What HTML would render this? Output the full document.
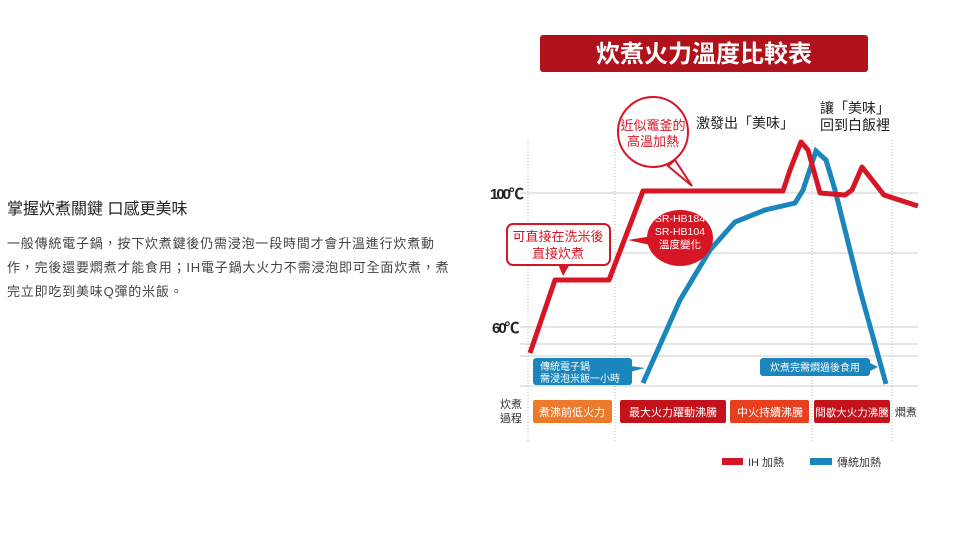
<!DOCTYPE html>
<html><head><meta charset="utf-8"><style>
body{margin:0;width:960px;height:543px;background:#fff;overflow:hidden;font-family:"Liberation Sans","Noto Sans CJK TC",sans-serif;position:relative}
.h{position:absolute;left:7px;top:195px;font-size:16px;color:#222}
.p{position:absolute;left:7px;top:232px;width:470px;font-size:13px;line-height:24px;color:#444;letter-spacing:0.8px;white-space:nowrap}
</style></head><body>
<div class="h">掌握炊煮關鍵 口感更美味</div>
<div class="p">一般傳統電子鍋，按下炊煮鍵後仍需浸泡一段時間才會升溫進行炊煮動<br>作，完後還要燜煮才能食用；IH電子鍋大火力不需浸泡即可全面炊煮，煮<br>完立即吃到美味Q彈的米飯。</div>
<svg width="960" height="543" style="position:absolute;left:0;top:0" font-family="Liberation Sans,Noto Sans CJK TC,sans-serif">
<rect x="540" y="35" width="328" height="37" rx="3" fill="#b0121b"/>
<text x="704" y="62" font-size="24" font-weight="bold" fill="#fff" text-anchor="middle">炊煮火力溫度比較表</text>
<g stroke="#ccc" stroke-width="1">
<line x1="520" y1="193" x2="918" y2="193"/><line x1="520" y1="253" x2="918" y2="253"/>
<line x1="520" y1="327" x2="918" y2="327"/><line x1="520" y1="344" x2="918" y2="344"/>
<line x1="520" y1="356" x2="918" y2="356"/><line x1="520" y1="386" x2="918" y2="386"/>
</g>
<g stroke="#bbb" stroke-dasharray="1,2">
<line x1="528" y1="140" x2="528" y2="443"/><line x1="615" y1="140" x2="615" y2="443"/>
<line x1="812" y1="140" x2="812" y2="443"/><line x1="892" y1="140" x2="892" y2="443"/>
</g>
<text x="490" y="199" font-size="15" font-weight="bold" fill="#222" letter-spacing="-2">100℃</text>
<text x="492" y="333" font-size="15" font-weight="bold" fill="#222" letter-spacing="-2">60℃</text>
<polyline points="643,383 680,300 710,250 735,222 765,210 795,203 803,190 816,151 826,160 835,190 860,290 886,384" fill="none" stroke="#1a86bd" stroke-width="5"/>
<polyline points="530,353 555,280 609,280 643,191 783,191 790,170 801,142 808,150 820,193 845,195 852,190 862,167 884,195 918,206" fill="none" stroke="#d71625" stroke-width="5" stroke-linejoin="round"/>
<path d="M675,160 L692,186 L668,166Z" fill="#fff" stroke="#d71625" stroke-width="2"/>
<circle cx="653" cy="132" r="35" fill="#fff" stroke="#d71625" stroke-width="2"/>
<text x="653" y="130" font-size="13" fill="#d71625" text-anchor="middle">近似竈釜的</text>
<text x="653" y="146" font-size="13" fill="#d71625" text-anchor="middle">高溫加熱</text>
<path d="M558,264 L563,276 L570,264Z" fill="#d71625"/>
<rect x="507" y="224" width="103" height="41" rx="6" fill="#fff" stroke="#d71625" stroke-width="2"/>
<text x="558" y="241" font-size="13" fill="#d71625" text-anchor="middle">可直接在洗米後</text>
<text x="558" y="258" font-size="13" fill="#d71625" text-anchor="middle">直接炊煮</text>
<path d="M650,245 L628,240 L652,236Z" fill="#d71625"/>
<ellipse cx="680" cy="238" rx="33" ry="28" fill="#d71625"/>
<text x="680" y="222" font-size="10.5" fill="#fff" text-anchor="middle">SR-HB184</text>
<text x="680" y="235" font-size="10.5" fill="#fff" text-anchor="middle">SR-HB104</text>
<text x="680" y="248" font-size="10.5" fill="#fff" text-anchor="middle">溫度變化</text>
<text x="745" y="128" font-size="14" fill="#222" text-anchor="middle">激發出「美味」</text>
<text x="855" y="113" font-size="14" fill="#222" text-anchor="middle">讓「美味」</text>
<text x="855" y="130" font-size="14" fill="#222" text-anchor="middle">回到白飯裡</text>
<path d="M630,366 L645,368 L630,372Z" fill="#1a86bd"/>
<rect x="533" y="358" width="99" height="27" rx="3" fill="#1a86bd"/>
<text x="540" y="370" font-size="10" fill="#fff">傳統電子鍋</text>
<text x="540" y="382" font-size="10" fill="#fff">需浸泡米飯一小時</text>
<path d="M868,362 L878,367 L868,372Z" fill="#1a86bd"/>
<rect x="760" y="358" width="110" height="18" rx="3" fill="#1a86bd"/>
<text x="815" y="371" font-size="10" fill="#fff" text-anchor="middle">炊煮完需燜過後食用</text>
<text x="500" y="408" font-size="11" fill="#333">炊煮</text>
<text x="500" y="422" font-size="11" fill="#333">過程</text>
<rect x="533" y="400" width="79" height="23" rx="2" fill="#ec7a2a"/>
<rect x="620" y="400" width="106" height="23" rx="2" fill="#c3121c"/>
<rect x="730" y="400" width="79" height="23" rx="2" fill="#e8401f"/>
<rect x="814" y="400" width="76" height="23" rx="2" fill="#c3121c"/>
<g font-size="11" fill="#fff" text-anchor="middle">
<text x="572" y="416">煮沸前低火力</text><text x="673" y="416">最大火力躍動沸騰</text>
<text x="770" y="416">中火持續沸騰</text><text x="852" y="416" font-size="10.5">間歇大火力沸騰</text></g>
<text x="895" y="416" font-size="11" fill="#333">燜煮</text>
<rect x="722" y="458" width="21" height="7" fill="#d71625"/>
<text x="748" y="466" font-size="11" fill="#333">IH 加熱</text>
<rect x="810" y="458" width="22" height="7" fill="#1a86bd"/>
<text x="837" y="466" font-size="11" fill="#333">傳統加熱</text>
</svg>
</body></html>
